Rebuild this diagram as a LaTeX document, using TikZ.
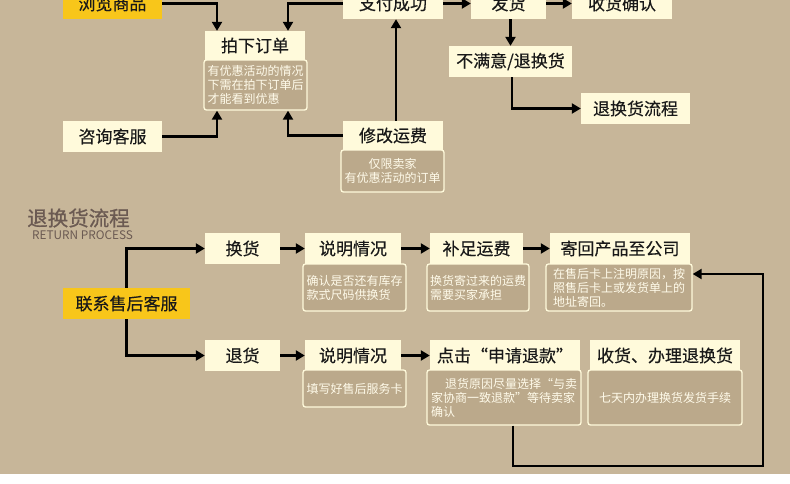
\documentclass[tikz,border=0pt]{standalone}
\usepackage{fontspec}
\setmainfont{Noto Sans CJK SC}
\newfontfamily\boxfont[FakeBold=0.35]{Noto Sans CJK SC}
\newfontfamily\ttlfont[FakeBold=0.8]{Noto Sans CJK SC}
\usetikzlibrary{arrows.meta}
\definecolor{bg}{HTML}{C7B699}
\definecolor{cream}{HTML}{FFFADB}
\definecolor{yel}{HTML}{F8C61A}
\definecolor{subf}{HTML}{BBA98B}
\definecolor{subt}{HTML}{FFFBEA}
\definecolor{ttl}{HTML}{6B5A52}
\tikzset{
 box/.style={fill=cream, inner sep=0pt, minimum height=31pt, font=\boxfont\fontsize{17}{20}\selectfont, text=black!90},
 ybox/.style={box, fill=yel},
 sub/.style={draw=cream, line width=1.3pt, fill=subf, rounded corners=2.5pt, inner sep=0pt, text=subt, font=\fontsize{12}{14}\selectfont, align=left},
 arr/.style={line width=2.2pt, -{Triangle[length=9pt,width=10pt]}},
}
\begin{document}
\begin{tikzpicture}[x=1pt,y=-1pt]
\useasboundingbox (0,0) rectangle (790,483);
\clip (0,0) rectangle (790,483);
\fill[bg] (0,0) rectangle (790,474);
\fill[white] (0,474) rectangle (790,483);

% top part
\node[ybox, minimum width=99pt] (browse) at (112.5,3.5) {浏览商品};
\node[box, minimum width=100pt, minimum height=29pt] (order) at (255,45.5) {拍下订单};
\node[sub, minimum width=103pt, minimum height=50pt] (orderSub) at (255.5,85) {有优惠活动的情况\\下需在拍下订单后\\才能看到优惠};
\node[box, minimum width=99pt] (consult) at (112.5,136.5) {咨询客服};
\node[box, minimum width=100pt] (pay) at (393,3.5) {支付成功};
\node[box, minimum width=75pt] (ship) at (508.5,3.5) {发货};
\node[box, minimum width=100pt] (confirm) at (622,3.5) {收货确认};
\node[box, minimum width=123pt] (unsat) at (510.5,61.5) {不满意/退换货};
\node[box, minimum width=109pt] (rflow) at (635.5,108.5) {退换货流程};
\node[box, minimum width=100pt, minimum height=29pt] (fee) at (393,135.5) {修改运费};
\node[sub, minimum width=103pt, minimum height=42pt, align=center] (feeSub) at (392.5,171) {仅限卖家\\有优惠活动的订单};

\draw[arr] (browse.east) -| ([xshift=-38pt]order.north);
\draw[arr] (pay.west) -| ([xshift=33pt]order.north);
\draw[arr] (consult.east) -| ([xshift=-38.5pt]orderSub.south);
\draw[arr] (fee.west) -| ([xshift=32.5pt]orderSub.south);
\draw[arr] ([xshift=3pt]fee.north) -- ([xshift=3pt]pay.south);
\draw[arr] (pay.east) -- (ship.west);
\draw[arr] (ship.east) -- (confirm.west);
\draw[arr] (ship.south -| unsat.north) -- (unsat.north);
\draw[arr] ([xshift=1.5pt]unsat.south) |- (rflow.west);

% return process
\node[anchor=west, text=ttl, font=\ttlfont\fontsize{20.5}{22}\selectfont, inner sep=0pt] (title) at (27,218) {退换货流程};
\node[anchor=west, text=ttl, font=\fontsize{11.8}{13}\selectfont, inner sep=0pt] (titleEn) at (32,235) {RETURN PROCESS};

\node[ybox, minimum width=127pt] (contact) at (126.5,303.5) {联系售后客服};
\node[box, minimum width=75pt] (exch) at (242.5,248.5) {换货};
\node[box, minimum width=96pt] (exp1) at (353,248.5) {说明情况};
\node[sub, minimum width=103pt, minimum height=47pt] (exp1Sub) at (354.5,287.5) {确认是否还有库存\\款式尺码供换货};
\node[box, minimum width=93pt] (addfee) at (476.5,248.5) {补足运费};
\node[sub, minimum width=102pt, minimum height=47pt] (addfeeSub) at (478,287.5) {换货寄过来的运费\\需要买家承担};
\node[box, minimum width=140pt] (sendback) at (620,248.5) {寄回产品至公司};
\node[sub, minimum width=146pt, minimum height=47pt] (sendbackSub) at (619,287.5) {在售后卡上注明原因，按\\照售后卡上或发货单上的\\地址寄回。};

\node[box, minimum width=75pt] (ret) at (242.5,355.5) {退货};
\node[box, minimum width=96pt] (exp2) at (353,355.5) {说明情况};
\node[sub, minimum width=103pt, minimum height=37pt] (exp2Sub) at (354.5,388.5) {填写好售后服务卡};
\node[box, minimum width=150pt] (apply) at (505,355.5) {点击“申请退款”};
\node[sub, minimum width=154pt, minimum height=55pt] (applySub) at (504,397.5) {\hspace*{14pt}退货原因尽量选择“与卖\\家协商一致退款”等待卖家\\确认};
\node[box, minimum width=150pt] (receive) at (665,355.5) {收货、办理退换货};
\node[sub, minimum width=154pt, minimum height=55pt] (receiveSub) at (665,397.5) {七天内办理换货发货手续};

\draw[arr] (contact.north) |- (exch.west);
\draw[arr] (contact.south) |- (ret.west);
\draw[arr] (exch.east) -- (exp1.west);
\draw[arr] (exp1.east) -- (addfee.west);
\draw[arr] (addfee.east) -- (sendback.west);
\draw[arr] (ret.east) -- (exp2.west);
\draw[arr] (exp2.east) -- (apply.west);
\coordinate (loopBR) at (763,466);
\draw[arr] ([xshift=9pt]applySub.south) |- (loopBR) |- ([yshift=13.5pt]sendbackSub.east);
\end{tikzpicture}
\end{document}
